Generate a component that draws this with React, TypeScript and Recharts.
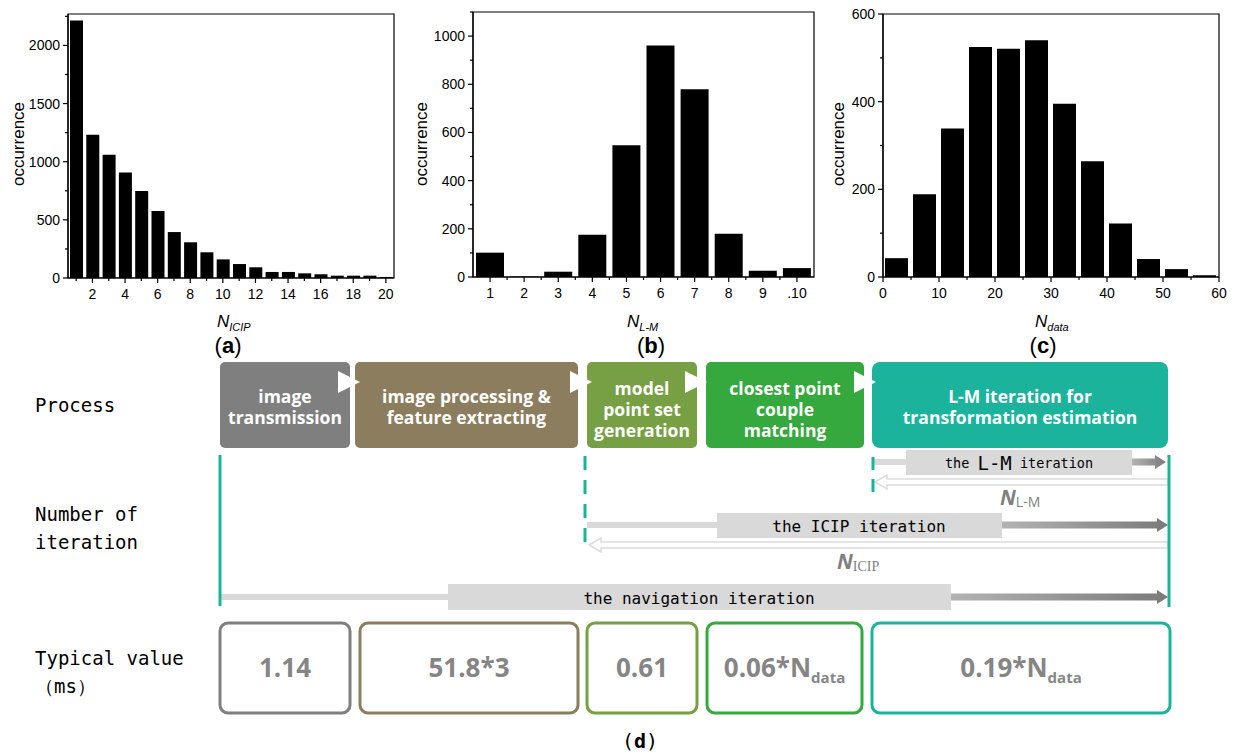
import React from 'react';
import { BarChart, Bar, XAxis, YAxis, ReferenceArea } from 'recharts';

// ---- histogram data ----
const icipBins = [1, 2, 3, 4, 5, 6, 7, 8, 9, 10, 11, 12, 13, 14, 15, 16, 17, 18, 19, 20];
const icipCounts = [2215, 1232, 1060, 908, 748, 576, 395, 307, 221, 160, 120, 92, 52, 52, 40, 32, 20, 20, 20, 9];
const icipXTicks = [1, 2, 3, 4, 5, 6, 7, 8, 9, 10, 11, 12, 13, 14, 15, 16, 17, 18, 19, 20];
const icipXLabels = [2, 4, 6, 8, 10, 12, 14, 16, 18, 20];
const icipYTicks = [0, 250, 500, 750, 1000, 1250, 1500, 1750, 2000, 2250];
const icipYLabels = [0, 500, 1000, 1500, 2000];

const lmBins = [1, 2, 3, 4, 5, 6, 7, 8, 9, 10];
const lmCounts = [101, 2, 22, 175, 547, 961, 779, 180, 26, 37];
const lmXTicks = [1, 1.5, 2, 2.5, 3, 3.5, 4, 4.5, 5, 5.5, 6, 6.5, 7, 7.5, 8, 8.5, 9, 9.5, 10];
const lmXLabels = [1, 2, 3, 4, 5, 6, 7, 8, 9, 10];
const lmXNames = ['1', '2', '3', '4', '5', '6', '7', '8', '9', '.10'];
const lmYTicks = [0, 100, 200, 300, 400, 500, 600, 700, 800, 900, 1000, 1100];
const lmYLabels = [0, 200, 400, 600, 800, 1000];

const dataBins = [2.5, 7.5, 12.5, 17.5, 22.5, 27.5, 32.5, 37.5, 42.5, 47.5, 52.5, 57.5];
const dataCounts = [43, 189, 339, 525, 521, 540, 395, 264, 122, 41, 18, 4];
const dataXTicks = [0, 5, 10, 15, 20, 25, 30, 35, 40, 45, 50, 55, 60];
const dataXLabels = [0, 10, 20, 30, 40, 50, 60];
const dataYTicks = [0, 100, 200, 300, 400, 500, 600];
const dataYLabels = [0, 200, 400, 600];

// ---- process diagram text ----
const stageLines = [
  ['image', 'transmission'],
  ['image processing &', 'feature extracting'],
  ['model', 'point set', 'generation'],
  ['closest point', 'couple', 'matching'],
  ['L-M iteration for', 'transformation estimation'],
];
const stageColors = ['#7f7f7f', '#8c7d5e', '#77a045', '#35a83e', '#1bb39b'];
const typicalMain = ['1.14', '51.8*3', '0.61', '0.06*N', '0.19*N'];
const typicalSub = ['', '', '', 'data', 'data'];

const FONT = '"Liberation Sans", Arial, sans-serif';
const MONO = '"DejaVu Sans Mono", "Liberation Mono", monospace';
const SANS_B = '"Open Sans", "Noto Sans", sans-serif';

const yTick = (labels: number[]) => (p: any) => {
  const major = labels.includes(p.payload.value);
  return (
    <g>
      <line x1={p.x - (major ? 5 : 3)} y1={p.y} x2={p.x} y2={p.y} stroke="#000" strokeWidth={1.2} />
      {major && (
        <text x={p.x - 8} y={p.y + 5} textAnchor="end" fontSize={14} fontFamily={FONT} fill="#000">
          {p.payload.value}
        </text>
      )}
    </g>
  );
};

const xTick = (labels: number[], names?: string[]) => (p: any) => {
  const idx = labels.indexOf(p.payload.value);
  const major = idx >= 0;
  return (
    <g>
      <line x1={p.x} y1={p.y} x2={p.x} y2={p.y + (major ? 5 : 3)} stroke="#000" strokeWidth={1.2} />
      {major && (
        <text x={p.x} y={p.y + 21} textAnchor="middle" fontSize={14} fontFamily={FONT} fill="#000">
          {names ? names[idx] : p.payload.value}
        </text>
      )}
    </g>
  );
};

type Plot = { left: number; top: number; right: number; bottom: number };

function Histogram(props: {
  plot: Plot;
  bins: number[];
  counts: number[];
  xDomain: [number, number];
  yDomain: [number, number];
  xTicks: number[];
  xLabels: number[];
  xNames?: string[];
  yTicks: number[];
  yLabels: number[];
  barSize: number;
}) {
  const { plot } = props;
  const axisW = 60;
  const h = 312;
  const rows = props.bins.map((b, i) => ({ bin: b, count: props.counts[i] }));
  return (
    <div style={{ position: 'absolute', left: plot.left - axisW, top: 0 }}>
      <BarChart
        width={plot.right - plot.left + axisW + 14}
        height={h}
        data={rows}
        margin={{ top: plot.top, right: 14, left: 0, bottom: 0 }}
      >
        <XAxis
          dataKey="bin"
          type="number"
          domain={props.xDomain}
          ticks={props.xTicks}
          interval={0}
          height={h - plot.bottom}
          tickSize={0}
          tickMargin={0}
          tickLine={false}
          axisLine={{ stroke: '#000', strokeWidth: 1.2 }}
          tick={xTick(props.xLabels, props.xNames)}
          allowDataOverflow
        />
        <YAxis
          type="number"
          domain={props.yDomain}
          ticks={props.yTicks}
          interval={0}
          width={axisW}
          tickSize={0}
          tickMargin={0}
          tickLine={false}
          axisLine={{ stroke: '#000', strokeWidth: 1.2 }}
          tick={yTick(props.yLabels)}
          allowDataOverflow
        />
        <Bar dataKey="count" fill="#000" barSize={props.barSize} isAnimationActive={false} />
        <ReferenceArea
          x1={props.xDomain[0]}
          x2={props.xDomain[1]}
          y1={props.yDomain[0]}
          y2={props.yDomain[1]}
          fill="none"
          stroke="#000"
          strokeWidth={1.2}
        />
      </BarChart>
    </div>
  );
}

// diagram geometry
const stageBoxes = [
  { x: 220, w: 130 },
  { x: 355, w: 223 },
  { x: 587, w: 110 },
  { x: 706, w: 158 },
  { x: 872, w: 296 },
];
const valueBoxes = [
  { x: 220, w: 130 },
  { x: 360, w: 218 },
  { x: 587, w: 110 },
  { x: 707, w: 155 },
  { x: 872, w: 298 },
];
const stageArrowX = [360, 592, 707, 876];

function Forward(p: { x0: number; b0: number; b1: number; tip: number; yc: number; top: number; bottom: number; shaft?: number; children?: React.ReactNode }) {
  const s = (p.shaft ?? 7) / 2;
  const { yc } = p;
  return (
    <g>
      <rect x={p.x0} y={yc - 3} width={p.b0 - p.x0} height={6} fill="#d9d9d9" />
      <rect x={p.b0} y={p.top} width={p.b1 - p.b0} height={p.bottom - p.top} fill="#d9d9d9" />
      <polygon
        points={`${p.b1},${yc - s} ${p.tip - 11},${yc - s} ${p.tip - 11},${yc - 7} ${p.tip},${yc} ${p.tip - 11},${yc + 7} ${p.tip - 11},${yc + s} ${p.b1},${yc + s}`}
        fill="url(#darkGrad)"
      />
      {p.children}
    </g>
  );
}

function Back(p: { tip: number; end: number; yc: number }) {
  const { tip, end, yc } = p;
  return (
    <polygon
      points={`${tip},${yc} ${tip + 12},${yc - 7} ${tip + 12},${yc - 3} ${end},${yc - 3} ${end},${yc + 3} ${tip + 12},${yc + 3} ${tip + 12},${yc + 7}`}
      fill="#fff"
      stroke="#dcdcdc"
      strokeWidth={1.5}
    />
  );
}

function Diagram() {
  const teal = '#1bb39b';
  return (
    <svg width={1240} height={752} style={{ position: 'absolute', left: 0, top: 0 }}>
      <defs>
        <linearGradient id="darkGrad" x1="0" x2="1" y1="0" y2="0">
          <stop offset="0" stopColor="#b3b3b3" />
          <stop offset="1" stopColor="#7a7a7a" />
        </linearGradient>
      </defs>

      {/* histogram axis titles */}
      {[18, 421, 838].map((x) => (
        <text key={x} x={x} y={144} transform={`rotate(-90 ${x} 144)`} textAnchor="middle" dominantBaseline="central" fontSize={17} fontFamily={FONT}>
          occurrence
        </text>
      ))}
      {[
        { x: 217, sub: 'ICIP', tag: 'a', tx: 228 },
        { x: 627, sub: 'L-M', tag: 'b', tx: 651 },
        { x: 1035, sub: 'data', tag: 'c', tx: 1043 },
      ].map((l) => (
        <g key={l.tag} fontFamily={FONT}>
          <text x={l.x} y={327} fontSize={17} fontStyle="italic">
            N<tspan fontSize={11} dy={4}>{l.sub}</tspan>
          </text>
          <text x={l.tx} y={353} textAnchor="middle" fontSize={22}>
            (<tspan fontWeight="bold">{l.tag}</tspan>)
          </text>
        </g>
      ))}

      {/* row labels */}
      <g fontFamily={MONO} fontSize={19} fill="#000">
        <text x={35} y={412}>Process</text>
        <text x={35} y={521}>Number of</text>
        <text x={35} y={549}>iteration</text>
        <text x={35} y={665}>Typical value</text>
        <text x={35} y={693}>（ms）</text>
      </g>

      {/* process stages */}
      {stageBoxes.map((b, i) => {
        const lines = stageLines[i];
        const cy = lines.length === 3 ? 409 : 406;
        const lh = 21;
        const y0 = cy - ((lines.length - 1) * lh) / 2;
        return (
          <g key={i}>
            <rect x={b.x} y={362} width={b.w} height={86} rx={i === 4 ? 8 : 5} fill={stageColors[i]} />
            {lines.map((t, j) => (
              <text key={j} x={b.x + b.w / 2} y={y0 + j * lh} textAnchor="middle" dominantBaseline="central" fill="#fff" fontSize={17.5} fontWeight="bold" fontFamily={SANS_B}>
                {t}
              </text>
            ))}
          </g>
        );
      })}
      {stageArrowX.map((x) => (
        <polygon key={x} points={`${x - 22},${371} ${x},${382} ${x - 22},${393}`} fill="#fff" />
      ))}

      {/* iteration loops */}
      <Forward x0={873} b0={906} b1={1132} tip={1166} yc={462} top={450} bottom={475}>
        <text x={1019} y={463} textAnchor="middle" dominantBaseline="central" fontFamily={MONO} fontSize={13.5}>
          the <tspan fontSize={19}>L-M</tspan> iteration
        </text>
      </Forward>
      <Back tip={875} end={1168} yc={482} />
      <text x={1000} y={505} fontFamily={SANS_B} fill="#808080" fontSize={21} fontWeight="bold" fontStyle="italic">
        N<tspan fontSize={14} fontStyle="normal" fontWeight="normal" dy={2}>L-M</tspan>
      </text>

      <Forward x0={587} b0={717} b1={1002} tip={1168} yc={525} top={513} bottom={538}>
        <text x={859} y={526} textAnchor="middle" dominantBaseline="central" fontFamily={MONO} fontSize={16}>
          the ICIP iteration
        </text>
      </Forward>
      <Back tip={589} end={1168} yc={545} />
      <text x={837} y={569} fontFamily={SANS_B} fill="#808080" fontSize={21} fontWeight="bold" fontStyle="italic">
        N<tspan fontSize={14} fontStyle="normal" fontWeight="normal" dy={2} fontFamily='"Liberation Serif", serif'>ICIP</tspan>
      </text>

      <Forward x0={220} b0={448} b1={951} tip={1168} yc={597} top={584} bottom={610}>
        <text x={699} y={598} textAnchor="middle" dominantBaseline="central" fontFamily={MONO} fontSize={16}>
          the navigation iteration
        </text>
      </Forward>

      <line x1={220} y1={455} x2={220} y2={606} stroke={teal} strokeWidth={3} />
      <line x1={1169} y1={455} x2={1169} y2={607} stroke={teal} strokeWidth={3} />
      <line x1={585} y1={456} x2={585} y2={542} stroke={teal} strokeWidth={3} strokeDasharray="14 10" />
      <line x1={873} y1={457} x2={873} y2={493} stroke={teal} strokeWidth={3} strokeDasharray="13 9" />

      {/* typical values */}
      {valueBoxes.map((b, i) => (
        <g key={i}>
          <rect x={b.x} y={623} width={b.w} height={90} rx={8} fill="#fff" stroke={stageColors[i]} strokeWidth={3} />
          <text x={b.x + b.w / 2} y={677} textAnchor="middle" fill="#858585" fontSize={26} fontWeight="bold" fontFamily={SANS_B}>
            {typicalMain[i]}
            {typicalSub[i] && (
              <tspan fontSize={15} dy={6}>
                {typicalSub[i]}
              </tspan>
            )}
          </text>
        </g>
      ))}

      <text x={640} y={748} textAnchor="middle" fontFamily={MONO} fontSize={20}>
        (<tspan fontWeight="bold">d</tspan>)
      </text>
    </svg>
  );
}

export default function App() {
  return (
    <div style={{ position: 'absolute', left: 0, top: 0, width: 1240, height: 752, background: '#fff', overflow: 'hidden' }}>
      <Histogram
        plot={{ left: 68, top: 14, right: 394, bottom: 278 }}
        bins={icipBins}
        counts={icipCounts}
        xDomain={[0.5, 20.5]}
        yDomain={[0, 2270]}
        xTicks={icipXTicks}
        xLabels={icipXLabels}
        yTicks={icipYTicks}
        yLabels={icipYLabels}
        barSize={13}
      />
      <Histogram
        plot={{ left: 473, top: 12, right: 814, bottom: 277 }}
        bins={lmBins}
        counts={lmCounts}
        xDomain={[0.5, 10.5]}
        yDomain={[0, 1100]}
        xTicks={lmXTicks}
        xLabels={lmXLabels}
        xNames={lmXNames}
        yTicks={lmYTicks}
        yLabels={lmYLabels}
        barSize={28}
      />
      <Histogram
        plot={{ left: 883, top: 14, right: 1219, bottom: 277 }}
        bins={dataBins}
        counts={dataCounts}
        xDomain={[0, 60]}
        yDomain={[0, 600]}
        xTicks={dataXTicks}
        xLabels={dataXLabels}
        yTicks={dataYTicks}
        yLabels={dataYLabels}
        barSize={23}
      />
      <Diagram />
    </div>
  );
}
